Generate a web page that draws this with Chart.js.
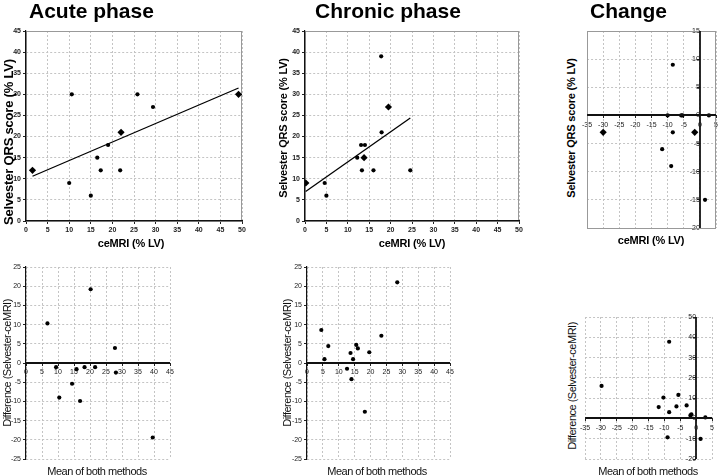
<!DOCTYPE html>
<html>
<head>
<meta charset="utf-8">
<script src="https://cdn.jsdelivr.net/npm/chart.js@4.4.1/dist/chart.umd.min.js"></script>
<style>
  body { margin: 0; background: #fff; font-family: "Liberation Sans", Arial, sans-serif; }
  #fig { position: relative; width: 720px; height: 475px; overflow: hidden; }
  canvas { position: absolute; }
  .t { position: absolute; white-space: nowrap; color: #000; transform: translate(-50%, -50%); line-height: 1; }
  .rot { transform: translate(-50%, -50%) rotate(-90deg); }
  .head { font-size: 21px; font-weight: bold; transform: none; }
  .ax { font-size: 11px; font-weight: bold; letter-spacing: -0.2px; }
  .ba { font-size: 11px; color: #111; letter-spacing: -0.5px; }
</style>
</head>
<body>
<div id="fig">
  <canvas id="acuteTop" width="250" height="250" style="left:0;top:0"></canvas>
  <canvas id="chronicTop" width="245" height="250" style="left:280px;top:0"></canvas>
  <canvas id="changeTop" width="140" height="250" style="left:580px;top:0"></canvas>
  <canvas id="acuteBA" width="172" height="220" style="left:6px;top:250px"></canvas>
  <canvas id="chronicBA" width="170" height="220" style="left:287px;top:250px"></canvas>
  <canvas id="changeBA" width="142" height="170" style="left:578px;top:300px"></canvas>

  <div class="t head" style="left:29px;top:0">Acute phase</div>
  <div class="t head" style="left:315px;top:0">Chronic phase</div>
  <div class="t head" style="left:590px;top:0">Change</div>

  <div class="t ax rot" style="left:8px;top:142px;font-size:13px">Selvester QRS score (% LV)</div>
  <div class="t ax rot" style="left:283px;top:128px">Selvester QRS score (% LV)</div>
  <div class="t ax rot" style="left:571px;top:128px">Selvester QRS score (% LV)</div>
  <div class="t ax" style="left:131px;top:243px">ceMRI (% LV)</div>
  <div class="t ax" style="left:412px;top:243px">ceMRI (% LV)</div>
  <div class="t ax" style="left:651px;top:240px">ceMRI (% LV)</div>

  <div class="t ba rot" style="left:7px;top:363px">Difference (Selvester-ceMRI)</div>
  <div class="t ba rot" style="left:287px;top:363px">Difference (Selvester-ceMRI)</div>
  <div class="t ba rot" style="left:572px;top:386px">Difference (Selvester-ceMRI)</div>
  <div class="t ba" style="left:97px;top:471px">Mean of both methods</div>
  <div class="t ba" style="left:377px;top:471px">Mean of both methods</div>
  <div class="t ba" style="left:648px;top:471px">Mean of both methods</div>
</div>

<script>
// Acute phase: ceMRI infarct size vs Selvester QRS score (both % LV)
const acuteMri = [1.5, 10.6, 10, 15, 16.5, 17.3, 19, 22, 21.8, 25.8, 29.4, 49.2];
const acuteQrs = [12, 30, 9, 6, 15, 12, 18, 21, 12, 30, 27, 30];
const acuteN   = [2, 1, 1, 1, 1, 1, 1, 2, 1, 1, 1, 2];   // overlapping patients
const acuteFitX = [1.5, 49.2];
const acuteFitY = [10.6, 31.5];

// Chronic phase
const chronicMri = [0.2, 4.6, 5, 12.2, 13.3, 13.1, 14, 13.8, 16, 17.8, 17.9, 19.5, 24.6];
const chronicQrs = [9, 9, 6, 15, 12, 18, 18, 15, 12, 39, 21, 27, 12];
const chronicN   = [2, 1, 1, 1, 1, 1, 1, 2, 1, 1, 1, 2, 1];
const chronicFitX = [0.15, 24.6];
const chronicFitY = [7.0, 24.4];

// Change between phases
const changeMri = [-30, -8.4, -10, -5.8, -5.4, 2.8, -8.4, -1.6, -11.7, -8.9, 1.6];
const changeQrs = [-3, 9, 0, 0, 0, 0, -3, -3, -6, -9, -15];
const changeN   = [2, 1, 1, 1, 1, 1, 1, 2, 1, 1, 1];

// Bland-Altman: mean of both methods vs difference
const acuteMean = [6.7, 9.4, 10.4, 14.4, 15.8, 16.9, 18.3, 20.2, 21.6, 27.8, 28.1, 39.6];
const acuteDiff = [10.3, -1.1, -9, -5.4, -1.6, -9.9, -1.1, 19.2, -1.1, 3.9, -2.5, -19.4];
const chronicMean = [4.5, 5.5, 6.7, 12.6, 13.7, 14, 14.5, 15.5, 16, 18.2, 19.6, 23.4, 28.4];
const chronicDiff = [8.6, 1, 4.4, -1.5, 2.6, -4.2, 1, 4.7, 3.8, -12.7, 2.8, 7.1, 21];
const changeMean = [-29.8, -8.5, -10.3, -5.6, -11.8, -8.5, -6.2, -3, -1.5, -1.8, 2.9, -9, 1.4];
const changeDiff = [16, 37.8, 10.3, 11.6, 5.6, 3.1, 5.9, 6.4, 2, 1.5, 0.5, -9.3, -10.1];

const FONT = '"Liberation Sans", Arial, sans-serif';
Chart.defaults.font.family = FONT;
Chart.defaults.animation = false;

function pts(xs, ys) {
  return xs.map((x, i) => ({ x: x, y: ys[i] }));
}

function dots(xs, ys, counts) {
  return {
    data: pts(xs, ys),
    backgroundColor: '#000',
    borderColor: '#000',
    borderWidth: 0,
    pointStyle: c => (counts && counts[c.dataIndex] > 1) ? 'rectRot' : 'circle',
    pointRadius: c => (counts && counts[c.dataIndex] > 1) ? 3.6 : 2.1
  };
}

function fitLine(xs, ys) {
  return {
    type: 'line',
    data: pts(xs, ys),
    showLine: true,
    borderColor: '#000',
    borderWidth: 1.3,
    pointRadius: 0,
    fill: false
  };
}

// gray frame under the data, dark zero axes on top of everything
const framePlugin = {
  id: 'frame',
  beforeDatasetsDraw(chart, args, opts) {
    if (!opts.box) return;
    const a = chart.chartArea;
    const ctx = chart.ctx;
    ctx.save();
    ctx.strokeStyle = opts.box;
    ctx.lineWidth = 1;
    ctx.strokeRect(Math.round(a.left) + 0.5, Math.round(a.top) + 0.5,
      Math.round(a.right - a.left) - 1, Math.round(a.bottom - a.top));
    ctx.restore();
  },
  afterDraw(chart, args, opts) {
    const a = chart.chartArea;
    const ctx = chart.ctx;
    ctx.save();
    ctx.strokeStyle = '#111';
    ctx.lineWidth = 1.8;
    if (opts.zeroX) {
      const px = Math.round(chart.scales.x.getPixelForValue(0));
      ctx.beginPath(); ctx.moveTo(px, a.top); ctx.lineTo(px, a.bottom); ctx.stroke();
    }
    if (opts.zeroY) {
      const py = Math.round(chart.scales.y.getPixelForValue(0));
      ctx.beginPath(); ctx.moveTo(a.left, py); ctx.lineTo(a.right, py); ctx.stroke();
    }
    ctx.restore();
  }
};

function axis(min, max, step, bold, extra) {
  return Object.assign({
    type: 'linear',
    min: min,
    max: max,
    ticks: {
      stepSize: step,
      autoSkip: false,
      maxRotation: 0,
      padding: 2,
      color: '#222',
      font: { size: 7, weight: bold ? 'bold' : 'normal' }
    },
    grid: { color: '#c4c4c4', lineWidth: 1, tickLength: 3, tickColor: '#222' },
    border: { display: true, color: '#111', width: 1.2, dash: [2, 2], z: 1 }
  }, extra || {});
}

// axis that crosses the plot at the other axis' zero (line drawn by the plugin)
function zeroAxis(min, max, step, other) {
  const s = axis(min, max, step, false, { position: { [other]: 0 } });
  s.border.display = false;
  return s;
}

function makeChart(id, datasets, scales, padding, frame) {
  return new Chart(document.getElementById(id), {
    type: 'scatter',
    data: { datasets: datasets },
    options: {
      responsive: false,
      layout: { padding: padding },
      plugins: { legend: { display: false }, tooltip: { enabled: false }, frame: frame },
      scales: scales
    },
    plugins: [framePlugin]
  });
}

// top row
makeChart('acuteTop',
  [dots(acuteMri, acuteQrs, acuteN), fitLine(acuteFitX, acuteFitY)],
  {
    x: axis(0, 50, 5, true, { afterFit: s => { s.height = 29; } }),
    y: axis(0, 45, 5, true, { afterFit: s => { s.width = 26; } })
  },
  { top: 31, right: 8, left: 0, bottom: 0 }, { box: '#999' });

makeChart('chronicTop',
  [dots(chronicMri, chronicQrs, chronicN), fitLine(chronicFitX, chronicFitY)],
  {
    x: axis(0, 50, 5, true, { afterFit: s => { s.height = 29; } }),
    y: axis(0, 45, 5, true, { afterFit: s => { s.width = 25; } })
  },
  { top: 31, right: 6, left: 0, bottom: 0 }, { box: '#999' });

makeChart('changeTop',
  [dots(changeMri, changeQrs, changeN)],
  {
    x: zeroAxis(-35, 5, 5, 'y'),
    y: zeroAxis(-20, 15, 5, 'x')
  },
  { top: 31, right: 2, left: 6, bottom: 22 }, { box: '#999', zeroX: true, zeroY: true });

// bottom row (Bland-Altman)
makeChart('acuteBA',
  [dots(acuteMean, acuteDiff)],
  {
    x: zeroAxis(0, 45, 5, 'y'),
    y: axis(-25, 25, 5, false, { afterFit: s => { s.width = 20; } })
  },
  { top: 17, right: 8, left: 0, bottom: 11 }, { zeroY: true });

makeChart('chronicBA',
  [dots(chronicMean, chronicDiff)],
  {
    x: zeroAxis(0, 45, 5, 'y'),
    y: axis(-25, 25, 5, false, { afterFit: s => { s.width = 20; } })
  },
  { top: 17, right: 7, left: 0, bottom: 11 }, { zeroY: true });

makeChart('changeBA',
  [dots(changeMean, changeDiff)],
  {
    x: zeroAxis(-35, 5, 5, 'y'),
    y: zeroAxis(-20, 50, 10, 'x')
  },
  { top: 17, right: 8, left: 7, bottom: 11 }, { zeroX: true, zeroY: true });
</script>
</body>
</html>
